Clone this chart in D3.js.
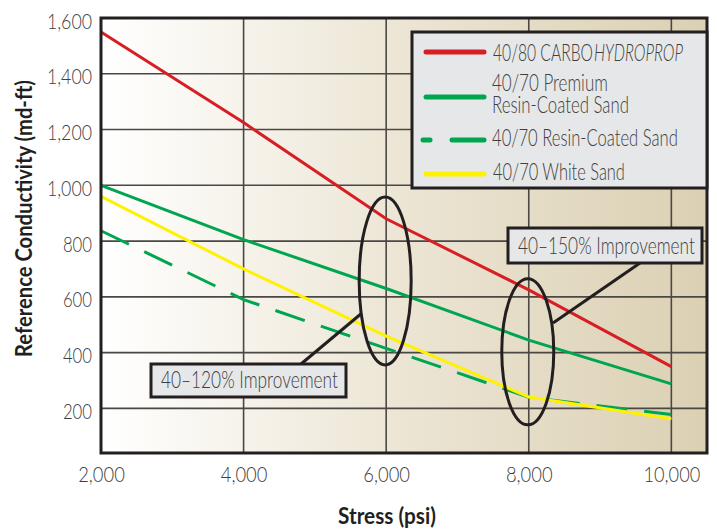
<!DOCTYPE html>
<html>
<head>
<meta charset="utf-8">
<script src="https://cdn.jsdelivr.net/npm/d3@7"></script>
<style>
  body { margin: 0; background: #fff; }
  text { font-family: Lato, "Open Sans", sans-serif; font-weight: 300; }
</style>
</head>
<body>
<script>
// data
const stress = [2000, 4000, 6000, 8000, 10000]
const carboHydroprop = [1550, 1225, 880, 625, 350]
const premiumRcs = [1000, 805, 630, 445, 288]
const resinCoated = [837, 590, 415, 240, 178]
const whiteSand = [960, 700, 459, 241, 163]

const xTicks = [2000, 4000, 6000, 8000, 10000]
const yTicks = [200, 400, 600, 800, 1000, 1200, 1400, 1600]

const series = [
  {name: "carbo", values: carboHydroprop, color: "#d81e25", dash: null},
  {name: "premium", values: premiumRcs, color: "#00a54f", dash: null},
  {name: "rcs", values: resinCoated, color: "#00a54f", dash: "31,17"},
  {name: "white", values: whiteSand, color: "#fff200", dash: null}
]

const width = 717, height = 531
const plotL = 101, plotR = 707, plotT = 18, plotB = 453
const ink = "#231f20", grey = "#404040"

const svg = d3.select("body").append("svg")
    .attr("width", width)
    .attr("height", height)

const x = d3.scaleLinear().domain([2000, 10500]).range([plotL, plotR])
const y = d3.scaleLinear().domain([40, 1600]).range([plotB, plotT])

// squeeze text horizontally to the condensed widths of the original
function fit(sel, w) {
  sel.each(function() {
    const t = d3.select(this)
    const n = this.getComputedTextLength()
    const tx = +t.attr("x") || 0, ty = +t.attr("y") || 0
    t.attr("x", 0).attr("y", 0)
        .attr("transform", "translate(" + tx + "," + ty + ") scale(" + (w / n) + ",1)")
  })
}
function numWidth(s, dw) {
  const commas = (s.match(/,/g) || []).length
  return (s.length - commas) * dw + commas * 6.3
}

// background gradient
const grad = svg.append("defs").append("linearGradient")
    .attr("id", "bg")
    .attr("x1", "0%").attr("x2", "100%").attr("y1", "0%").attr("y2", "0%")
grad.append("stop").attr("offset", "0%").attr("stop-color", "#ffffff")
grad.append("stop").attr("offset", "50%").attr("stop-color", "#ece5d4")
grad.append("stop").attr("offset", "100%").attr("stop-color", "#dbd0b3")

svg.append("rect")
    .attr("x", plotL).attr("y", plotT)
    .attr("width", plotR - plotL).attr("height", plotB - plotT)
    .attr("fill", "url(#bg)")

//grid lines
svg.append("g")
    .selectAll("line")
    .data(xTicks.slice(1))
    .enter()
    .append("line")
        .attr("x1", d => x(d)).attr("x2", d => x(d))
        .attr("y1", plotT).attr("y2", plotB)
        .attr("stroke", "#4a4745")
        .attr("stroke-width", 1.6)

svg.append("g")
    .selectAll("line")
    .data(yTicks.slice(0, -1))
    .enter()
    .append("line")
        .attr("x1", plotL).attr("x2", plotR)
        .attr("y1", d => y(d)).attr("y2", d => y(d))
        .attr("stroke", "#4a4745")
        .attr("stroke-width", 1.6)

// axes (labels only)
const fmt = d3.format(",")
const xAxis = svg.append("g")
    .attr("transform", "translate(0," + (plotB + 10) + ")")
    .call(d3.axisBottom(x).tickValues(xTicks).tickSize(0).tickFormat(fmt))
xAxis.select(".domain").remove()
xAxis.attr("font-family", null).attr("font-size", null)
xAxis.selectAll("text")
    .attr("font-size", 22.5)
    .attr("fill", grey)
    .each(function(d) { fit(d3.select(this), numWidth(fmt(d), 10.1)) })

const yAxis = svg.append("g")
    .attr("transform", "translate(" + (plotL - 6) + ",3)")
    .call(d3.axisLeft(y).tickValues(yTicks).tickSize(0).tickFormat(fmt))
yAxis.select(".domain").remove()
yAxis.attr("font-family", null).attr("font-size", null)
yAxis.selectAll("text")
    .attr("font-size", 22)
    .attr("fill", grey)
    .each(function(d) { fit(d3.select(this), numWidth(fmt(d), 9.7)) })

// lines
const line = d3.line()
    .x((d, i) => x(stress[i]))
    .y(d => y(d))

svg.append("g")
    .selectAll("path")
    .data(series)
    .enter()
    .append("path")
        .attr("d", d => line(d.values))
        .attr("fill", "none")
        .attr("stroke", d => d.color)
        .attr("stroke-width", 3)
        .attr("stroke-dasharray", d => d.dash)

// plot frame
svg.append("rect")
    .attr("x", plotL).attr("y", plotT)
    .attr("width", plotR - plotL).attr("height", plotB - plotT)
    .attr("fill", "none")
    .attr("stroke", ink)
    .attr("stroke-width", 3)

// ellipses round the 6,000 and 8,000 psi points
const ell = [
  {sx: 6000, cv: 657, rx: 26, rv: 301},
  {sx: 8000, cv: 403, rx: 26, rv: 262}
]
svg.append("g")
    .selectAll("ellipse")
    .data(ell)
    .enter()
    .append("ellipse")
        .attr("cx", d => x(d.sx) - 1)
        .attr("cy", d => y(d.cv))
        .attr("rx", d => d.rx)
        .attr("ry", d => y(0) - y(d.rv))
        .attr("fill", "none")
        .attr("stroke", ink)
        .attr("stroke-width", 3)

// leader lines
svg.append("line")
    .attr("x1", 640).attr("y1", 263).attr("x2", 553).attr("y2", 323)
    .attr("stroke", ink).attr("stroke-width", 3)
svg.append("line")
    .attr("x1", 301).attr("y1", 364).attr("x2", 362).attr("y2", 313)
    .attr("stroke", ink).attr("stroke-width", 3)

function callout(bx, by, bw, bh, tx, label) {
  svg.append("rect")
      .attr("x", bx).attr("y", by).attr("width", bw).attr("height", bh)
      .attr("fill", "#e6e7e8").attr("stroke", ink).attr("stroke-width", 3)
  svg.append("text")
      .attr("x", tx).attr("y", by + bh - 9)
      .attr("font-size", 24)
      .attr("fill", grey)
      .text(label)
      .call(fit, 177)
}
callout(508, 228, 194, 35, 518, "40–150% Improvement")
callout(151, 364, 195, 33, 161, "40–120% Improvement")

// legend
const lg = svg.append("g")
lg.append("rect")
    .attr("x", 412).attr("y", 32).attr("width", 295).attr("height", 156)
    .attr("fill", "#e6e7e8").attr("stroke", ink).attr("stroke-width", 3)

const legendY = [52, 97, 140, 174]

series.forEach(function(s, i) {
  const ly = legendY[i]
  if (s.dash) {
    lg.append("line")
        .attr("x1", 423).attr("x2", 430).attr("y1", ly).attr("y2", ly)
        .attr("stroke", s.color).attr("stroke-width", 5).attr("stroke-linecap", "round")
    lg.append("line")
        .attr("x1", 452).attr("x2", 484).attr("y1", ly).attr("y2", ly)
        .attr("stroke", s.color).attr("stroke-width", 5).attr("stroke-linecap", "round")
  } else {
    lg.append("line")
        .attr("x1", 426).attr("x2", 484).attr("y1", ly).attr("y2", ly)
        .attr("stroke", s.color).attr("stroke-width", 5).attr("stroke-linecap", "round")
  }
})

const legendText = [
  {t: "40/80 CARBO", x: 493, y: 61, w: 100},
  {t: "HYDROPROP", x: 594, y: 61, w: 89, italic: true},
  {t: "40/70 Premium", x: 492, y: 91, w: 116},
  {t: "Resin-Coated Sand", x: 492, y: 113, w: 137},
  {t: "40/70 Resin-Coated Sand", x: 492, y: 146, w: 186},
  {t: "40/70 White Sand", x: 493, y: 180, w: 132}
]
legendText.forEach(function(d) {
  lg.append("text")
      .attr("x", d.x).attr("y", d.y)
      .attr("font-size", 24)
      .attr("font-style", d.italic ? "italic" : null)
      .attr("fill", grey)
      .text(d.t)
      .call(fit, d.w)
})

// axis titles
svg.append("text")
    .attr("x", 338).attr("y", 524)
    .attr("font-size", 22).style("font-weight", 700).attr("fill", ink)
    .text("Stress (psi)")
    .call(fit, 98)

svg.append("g")
    .attr("transform", "translate(32,357)rotate(-90)")
  .append("text")
    .attr("font-size", 22).style("font-weight", 700).attr("fill", ink)
    .text("Reference Conductivity (md-ft)")
    .call(fit, 277)
</script>
</body>
</html>
